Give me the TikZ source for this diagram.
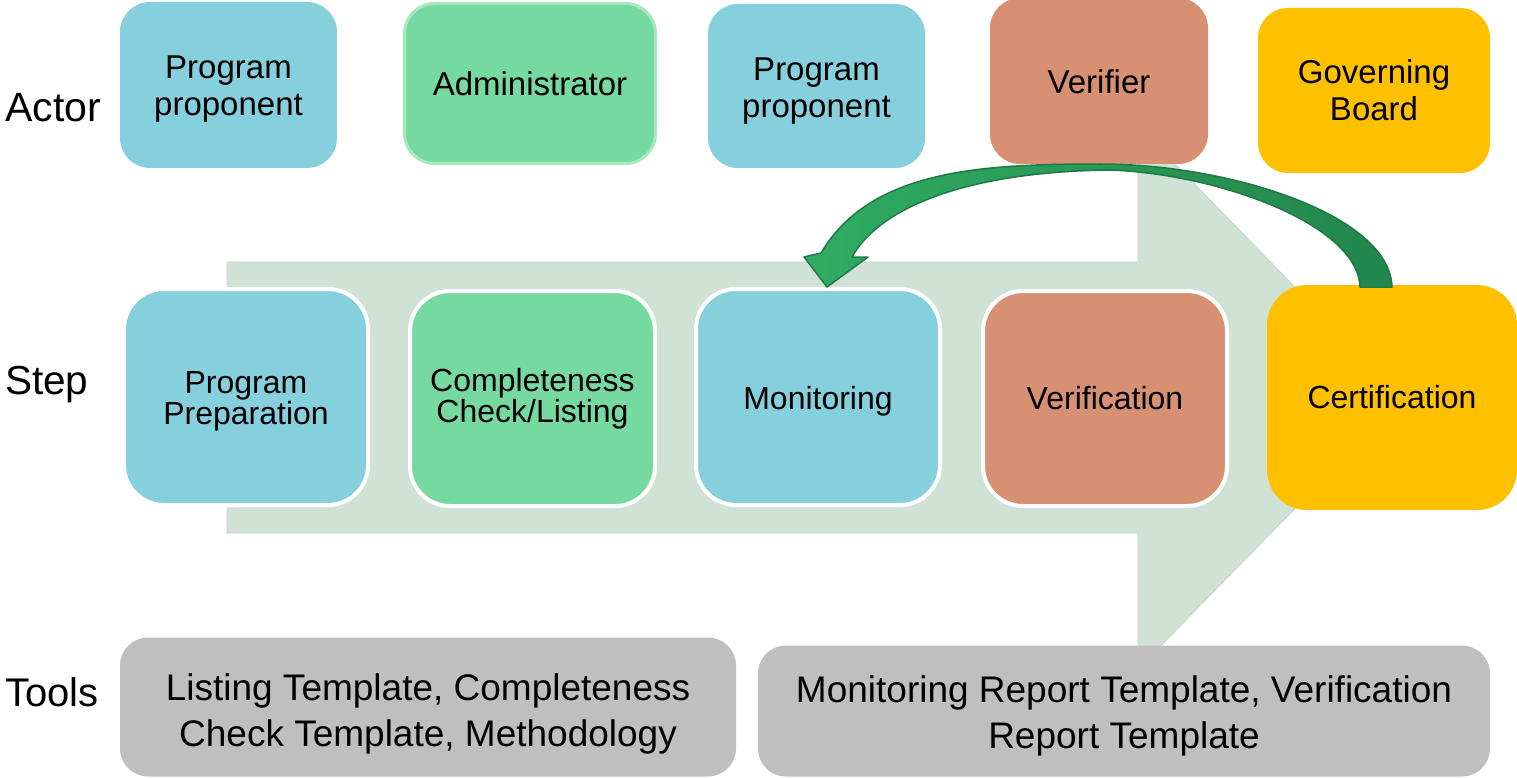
\documentclass[tikz,border=0pt]{standalone}
\usepackage{fontspec}
\setmainfont{Liberation Sans}
\definecolor{cblue}{HTML}{86CFDC}
\definecolor{cgreen}{HTML}{76D9A0}
\definecolor{cgreenb}{HTML}{A6E8C0}
\definecolor{csalmon}{HTML}{D79172}
\definecolor{cyellow}{HTML}{FFC000}
\definecolor{cgray}{HTML}{BFBFBF}
\definecolor{cbg}{HTML}{CFE2D5}
\definecolor{cbgline}{HTML}{C3D4C8}
\definecolor{agreen}{HTML}{2FAC63}
\definecolor{agreendk}{HTML}{22864B}
\definecolor{aline}{HTML}{1E7A44}
\begin{document}
\begin{tikzpicture}[x=1pt,y=-1pt,
  actorbox/.style={rounded corners=30pt, inner sep=0pt},
  actortext/.style={align=center, inner sep=0pt, font=\fontsize{33}{37}\selectfont},
  stepbox/.style={rounded corners=40pt, inner sep=0pt, draw=white, line width=4pt},
  steptext/.style={align=center, inner sep=0pt, font=\fontsize{32}{31}\selectfont},
  toolbox/.style={rounded corners=28pt, inner sep=0pt, fill=cgray},
  tooltext/.style={align=center, inner sep=0pt, font=\fontsize{37}{46}\selectfont},
  rowlabel/.style={anchor=base west, inner sep=0pt}]
\useasboundingbox (0,0) rectangle (1517,778);

% big background arrow
\filldraw[fill=cbg, draw=cbgline, line width=0.8pt]
  (227,262) -- (1138,262) -- (1138,126) -- (1403,398) -- (1138,669) -- (1138,533) -- (227,533) -- cycle;

% row labels
\node[rowlabel, font=\fontsize{41}{41}\selectfont] (lactor) at (5,122) {Actor};
\node[rowlabel, font=\fontsize{40.5}{41}\selectfont] (lstep) at (5,394) {Step};
\node[rowlabel, font=\fontsize{40}{41}\selectfont] (ltools) at (5,706) {Tools};

% actors
\node[actorbox, fill=cblue, minimum width=217pt, minimum height=166pt] (a1) at (228.5,85) {};
\node[actorbox, fill=cgreen, draw=cgreenb, line width=3pt, minimum width=251pt, minimum height=160pt] (a2) at (530,83.5) {};
\node[actorbox, fill=cblue, minimum width=217pt, minimum height=164pt] (a3) at (816.5,86) {};
\node[actorbox, fill=csalmon, minimum width=218pt, minimum height=166pt] (a4) at (1099,81) {};
\node[actorbox, fill=cyellow, minimum width=232pt, minimum height=165pt] (a5) at (1374,90.5) {};
\node[actortext] (a1t) at ([yshift=-4pt]a1.center) {Program\\proponent};
\node[actortext] (a2t) at (a2.center) {Administrator};
\node[actortext] (a3t) at ([yshift=-5pt]a3.center) {Program\\proponent};
\node[actortext] (a4t) at ([yshift=-1pt]a4.center) {Verifier};
\node[actortext] (a5t) at (a5.center) {Governing\\Board};

% steps
\node[stepbox, fill=cblue, minimum width=244pt, minimum height=216pt] (s1) at (246,397) {};
\node[stepbox, fill=cgreen, minimum width=245pt, minimum height=215pt] (s2) at (532.5,398.5) {};
\node[stepbox, fill=cblue, minimum width=244pt, minimum height=216pt] (s3) at (818,397) {};
\node[stepbox, fill=csalmon, minimum width=244pt, minimum height=215pt] (s4) at (1105,398.5) {};
\node[stepbox, draw=none, fill=cyellow, minimum width=250pt, minimum height=225pt] (s5) at (1392,397.5) {};
\node[steptext] (s1t) at ([yshift=-4.5pt]s1.center) {Program\\Preparation};
\node[steptext] (s2t) at ([yshift=-0.5pt]s2.center) {Completeness\\Check/Listing};
\node[steptext] (s3t) at ([yshift=-4pt]s3.center) {Monitoring};
\node[steptext] (s4t) at (s4.center) {Verification};
\node[steptext] (s5t) at (s5.center) {Certification};

% tools
\node[toolbox, minimum width=616pt, minimum height=139pt] (t1) at (428,707) {};
\node[toolbox, minimum width=732pt, minimum height=131pt] (t2) at (1124,711) {};
\node[tooltext] (t1t) at ([yshift=-6.5pt]t1.center) {Listing Template, Completeness\\Check Template, Methodology};
\node[tooltext] (t2t) at ([yshift=-4.5pt]t2.center) {Monitoring Report Template, Verification\\Report Template};

% curved green arrow from Certification back to Monitoring
\path[draw=aline, line width=1.5pt, left color=agreen, right color=agreendk, line join=round]
  (1392,287) .. controls (1390,215) and (1230,164) .. (1100,164)
  .. controls (980,164) and (870,170) .. (821,253)
  -- (804,257) -- (827,287) -- (868,257) -- (852,257)
  .. controls (875,215) and (950,172) .. (1110,170)
  .. controls (1220,174) and (1358,225) .. (1360,287) -- cycle;
\end{tikzpicture}
\end{document}
